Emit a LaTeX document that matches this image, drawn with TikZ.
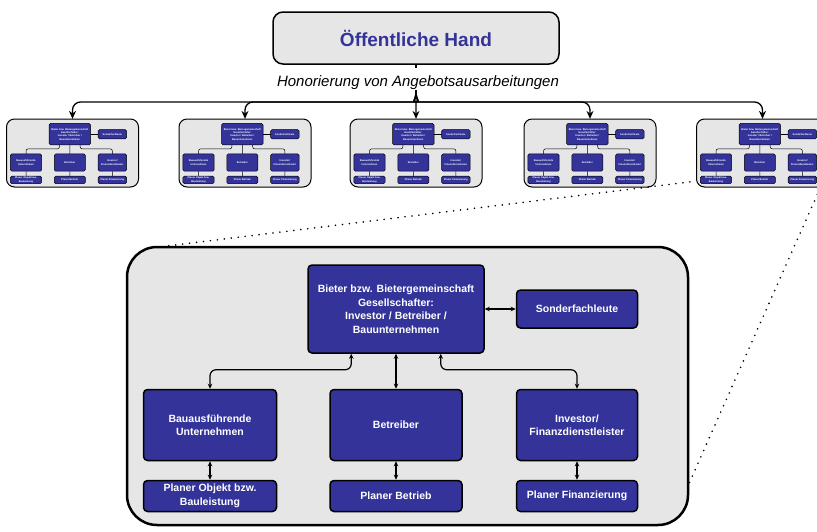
\documentclass[tikz,border=0pt]{standalone}
\usepackage{fontspec}
\setmainfont{Liberation Sans}
\usetikzlibrary{arrows.meta}
\definecolor{unitblue}{RGB}{51,51,153}
\definecolor{boxgray}{RGB}{230,230,230}

\tikzset{
  bidframe/.style={draw, fill=boxgray, line width=2.5pt, rounded corners=30pt, minimum width=561, minimum height=278},
  party/.style={draw, fill=unitblue, line width=1.5pt, rounded corners=4pt, text=white, align=center, font=\fontsize{10.5}{13.5}\selectfont\bfseries},
  link/.style={line width=1.2pt, <->, >={Stealth[length=5pt,width=4.5pt]}, rounded corners=6pt},
  mini/.style={xscale=0.2353, yscale=0.2446, transform shape,
    bidframe/.append style={line width=1pt, rounded corners=8pt},
    party/.append style={line width=0.5pt, rounded corners=1.5pt},
    link/.append style={line width=0.5pt, -, rounded corners=2pt}},
  handbox/.style={draw, fill=boxgray, line width=1.5pt, rounded corners=10pt, minimum width=286, minimum height=52, text=unitblue, font=\fontsize{19}{22}\selectfont\bfseries},
  toparrow/.style={line width=1.3pt, -{Stealth[length=8pt,width=7pt]}, rounded corners=8pt},
  zoomline/.style={line width=1.8pt, line cap=round, dash pattern=on 0pt off 7pt}
}

\newcommand\bieterorg{%
  \node[bidframe] (bidframe) at (280.5,139) {};
  \node[party, minimum width=176, minimum height=88] (bieter) at (269,62) {Bieter bzw. Bietergemeinschaft\\Gesellschafter:\\Investor / Betreiber /\\Bauunternehmen};
  \node[party, minimum width=121, minimum height=38] (sonder) at (450,62) {Sonderfachleute};
  \node[party, minimum width=133, minimum height=71] (bau) at (83,178) {Bauausführende\\Unternehmen};
  \node[party, minimum width=132, minimum height=71] (betreiber) at (269,178) {Betreiber};
  \node[party, minimum width=121, minimum height=71] (investor) at (450,178) {Investor/\\Finanzdienstleister};
  \node[party, minimum width=133, minimum height=31] (pobjekt) at (83,249) {Planer Objekt bzw.\\Bauleistung};
  \node[party, minimum width=132, minimum height=31] (pbetrieb) at (269,249) {Planer Betrieb};
  \node[party, minimum width=121, minimum height=31] (pfinanz) at (450,249) {Planer Finanzierung};
  \draw[link] (bieter) -- (sonder);
  \draw[link] (bieter) -- (betreiber);
  \draw[link] (bieter.225) -- ++(0,16) -| (bau.north);
  \draw[link] (bieter.315) -- ++(0,16) -| (investor.north);
  \draw[link] (bau) -- (pobjekt);
  \draw[link] (betreiber) -- (pbetrieb);
  \draw[link] (investor) -- (pfinanz);
}

\begin{document}
\begin{tikzpicture}[x=1pt,y=-1pt]
    \useasboundingbox (0,0) rectangle (817,531);
    \begin{scope}[shift={(6.5,119)}, mini, name prefix=s1-] \bieterorg \end{scope}
    \begin{scope}[shift={(179,119)}, mini, name prefix=s2-] \bieterorg \end{scope}
    \begin{scope}[shift={(350,119)}, mini, name prefix=s3-] \bieterorg \end{scope}
    \begin{scope}[shift={(524,119)}, mini, name prefix=s4-] \bieterorg \end{scope}
    \begin{scope}[shift={(696.5,119)}, mini, name prefix=s5-] \bieterorg \end{scope}
    \begin{scope}[shift={(127,247)}, name prefix=b-] \bieterorg \end{scope}
    \node[handbox] (hand) at (416,38) {Öffentliche Hand};
    \coordinate (fork) at (416,93);
    \draw[line width=1.3pt] (hand.south) -- (fork);
    \node[anchor=base, fill=white, inner sep=1pt, text height=17pt, font=\fontsize{15}{18}\selectfont\itshape] (honor) at (418,86) {Honorierung von Angebotsausarbeitungen};
    \draw[toparrow] (fork) -- (s3-bidframe.north);
    \draw[toparrow] (fork) to[out=-90,in=0] ++(-9,9) -| (s1-bidframe.north);
    \draw[toparrow] (fork) to[out=-90,in=0] ++(-9,9) -| (s2-bidframe.north);
    \draw[toparrow] (fork) to[out=-90,in=180] ++(9,9) -| (s4-bidframe.north);
    \draw[toparrow] (fork) to[out=-90,in=180] ++(9,9) -| (s5-bidframe.north);
    \draw[zoomline] ([xshift=43pt]b-bidframe.north west) -- ([yshift=6pt]s5-bidframe.south west);
    \draw[zoomline] ([yshift=-16pt]s5-bidframe.east) -- ([yshift=-97pt]b-bidframe.east);
\end{tikzpicture}
\end{document}
